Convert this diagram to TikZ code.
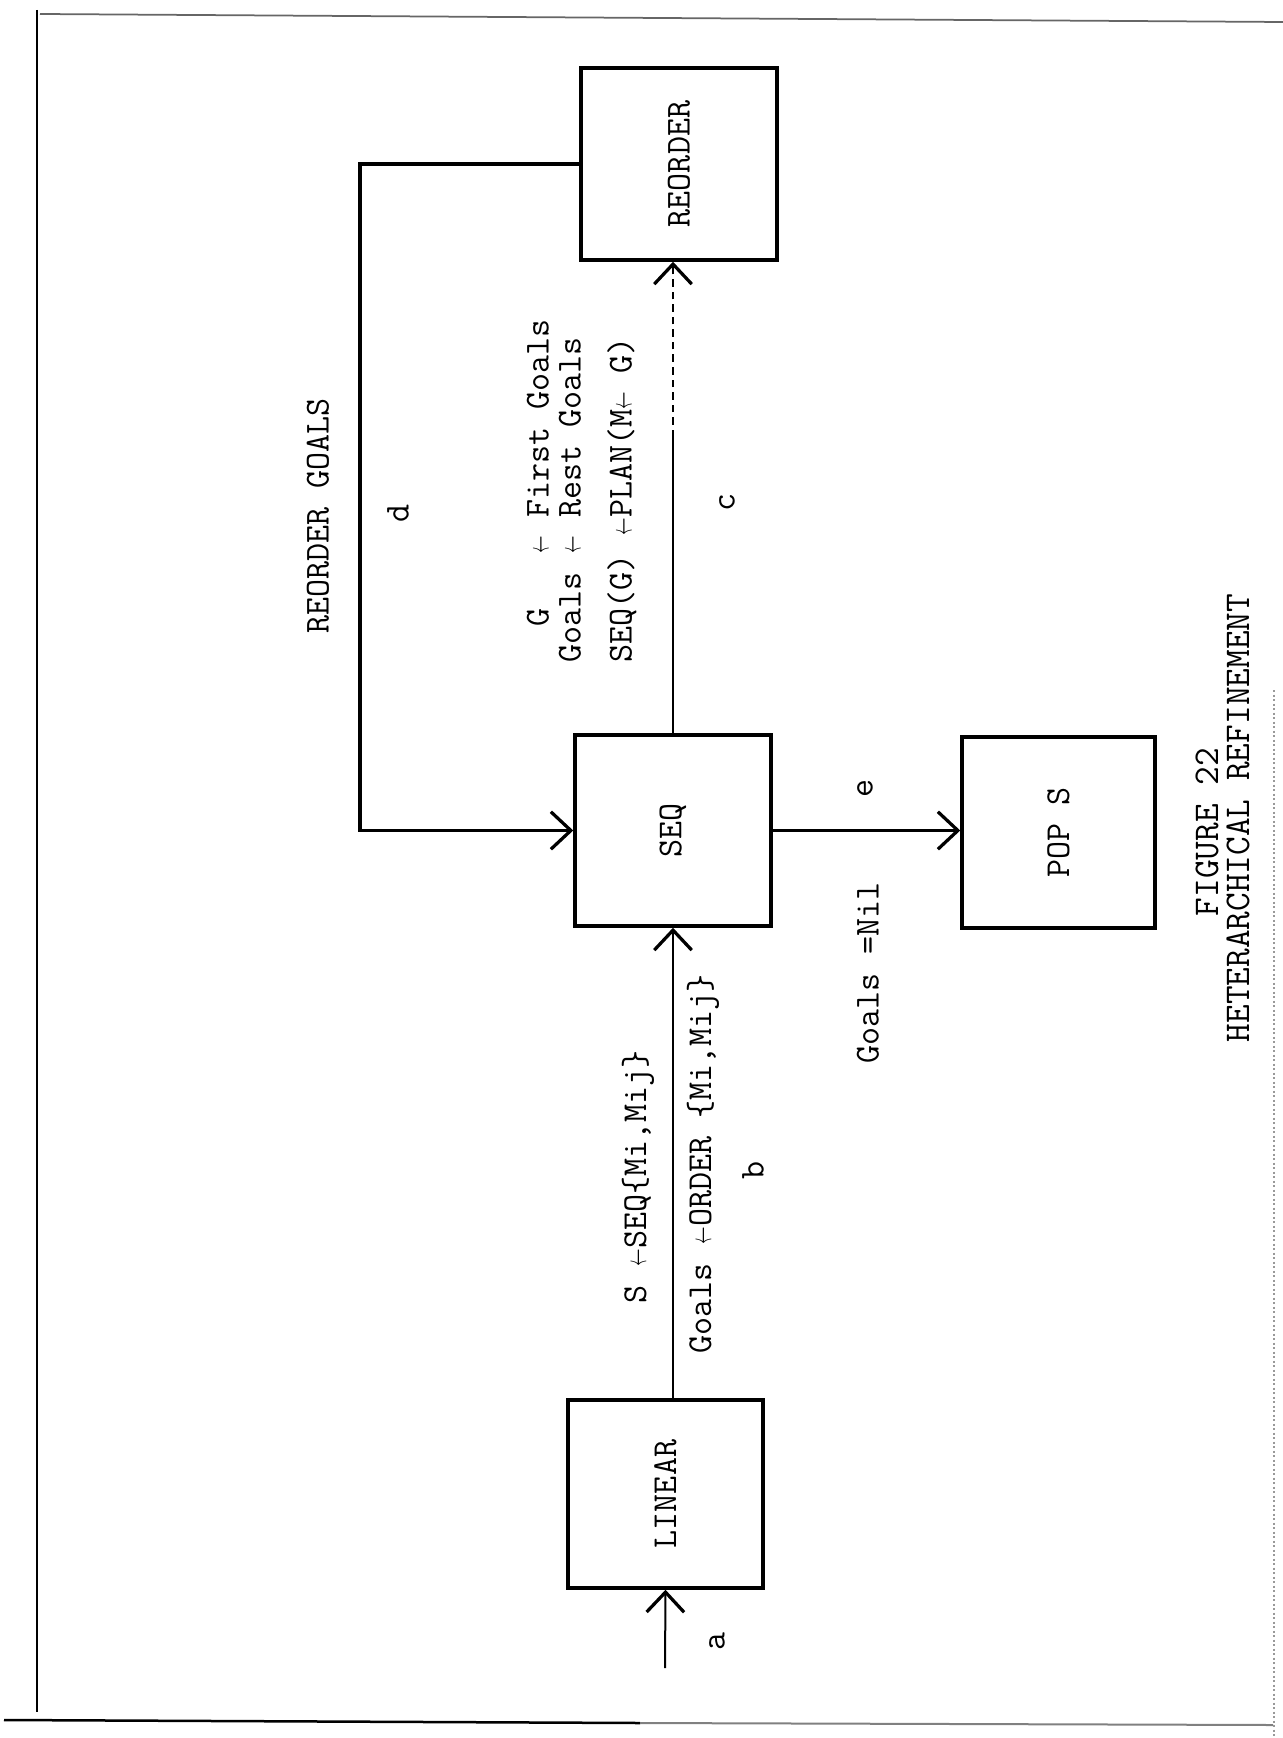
\documentclass[tikz,border=0pt]{standalone}
\usetikzlibrary{arrows.meta}
\usepackage{graphicx}
\newcommand{\labfont}{\ttfamily\fontsize{14}{16}\selectfont}
\newcommand{\titfont}{\ttfamily\fontsize{14.5}{17}\selectfont}
\newcommand{\larr}{\makebox[0.525em]{\resizebox{0.5em}{0.32em}{$\leftarrow$}}}
\begin{document}
\begin{tikzpicture}[x=0.4pt,y=-0.4pt,
  box/.style={draw,line width=1.4pt,inner sep=0pt,font=\labfont},
  lbl/.style={inner sep=0pt,font=\labfont,rotate=90},
  tit/.style={inner sep=0pt,font=\titfont,rotate=90},
  heavy/.style={line width=1.4pt},
  light/.style={line width=0.8pt},
  arr/.style={-{Straight Barb[length=8pt,width=15pt,line width=1.3pt]}}]
\useasboundingbox (0,0) rectangle (1283,1738);
% page edges
\draw[line width=0.8pt] (37,10) -- (37,1712);
\draw[line width=0.7pt,black!60] (40,14) -- (1283,22);
\draw[line width=1pt] (4,1720) -- (640,1723);
\draw[line width=0.8pt,black!50] (640,1723) -- (1273,1725);
\draw[line width=0.8pt,black!40,densely dotted] (1274,690) -- (1274,1738);
% boxes
\node[box,minimum width=78.4pt,minimum height=76.8pt] (reorder) at (679,164) {\rotatebox{90}{REORDER}};
\node[box,minimum width=78.4pt,minimum height=76.4pt] (seq) at (673,830.5) {\rotatebox{90}{SEQ}};
\node[box,minimum width=77.2pt,minimum height=76.4pt] (pop) at (1058.5,832.5) {\rotatebox{90}{POP S}};
\node[box,minimum width=78pt,minimum height=75.2pt] (linear) at (665.5,1494) {\rotatebox{90}{LINEAR}};
% connectors
\coordinate (ain) at (665,1668);
\draw[light,arr] (ain) -- (linear.south);
\draw[light,arr] (linear.north -| seq.south) -- (seq.south);
\coordinate (cmid) at (673,437);
\draw[light] (seq.north) -- (cmid);
\draw[light,densely dashed,arr] (cmid) -- (cmid |- reorder.south);
\coordinate (dcorner) at (360,164);
\draw[heavy,arr] (reorder.west) -- (dcorner) |- (seq.west);
\draw[heavy,arr] (seq.east) -- (seq.east -| pop.west);
% labels
\node[lbl] (tRG) at (318,516) {REORDER GOALS};
\node[lbl] (td) at (398,513) {d};
\node[lbl,anchor=west] (tc1) at (538,663) {\ \ G\ \ \ \larr{} First Goals};
\node[lbl,anchor=west] (tc2) at (570,663) {Goals \larr{} Rest Goals};
\node[lbl,anchor=west] (tc3) at (622,663) {SEQ(G) \larr{}PLAN(M\larr{} G)};
\node[lbl] (tcc) at (727,502) {c};
\node[lbl] (te) at (865,788) {e};
\node[lbl] (tnil) at (868,973) {Goals =Nil};
\node[lbl] (tb1) at (638,1177) {S \larr{}SEQ\{Mi,Mij\}};
\node[lbl] (tb2) at (703,1164) {Goals \larr{}ORDER \{Mi,Mij\}};
\node[lbl] (tbb) at (753,1170) {b};
\node[lbl] (ta) at (717,1641) {a};
\node[tit] (tfig) at (1207,832) {FIGURE 22};
\node[tit] (ttitle) at (1238,818) {HETERARCHICAL REFINEMENT};
\end{tikzpicture}
\end{document}
